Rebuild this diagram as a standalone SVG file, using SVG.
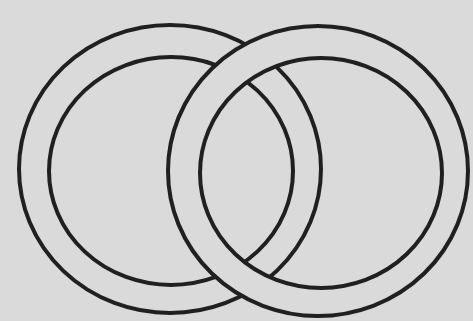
<svg xmlns="http://www.w3.org/2000/svg" width="473" height="321" viewBox="0 0 473 321">
<style>
.ln{fill:none;stroke:#202020;stroke-width:4}
.band{fill:#dadada;fill-rule:evenodd}
</style>
<rect width="473" height="321" fill="#dadada"/>
<g id="ring-left">
<ellipse class="ln" cx="170" cy="169" rx="151" ry="144"/>
<ellipse class="ln" cx="171" cy="171" rx="122" ry="114"/>
</g>
<g id="ring-right">
<path class="band" d="M168,171 a150,145 0 1,0 300,0 a150,145 0 1,0 -300,0 Z M200,173 a121,115 0 1,0 242,0 a121,115 0 1,0 -242,0 Z"/>
<ellipse class="ln" cx="318" cy="171" rx="150" ry="145"/>
<ellipse class="ln" cx="321" cy="173" rx="121" ry="115"/>
</g>
<g id="connectors"/>
</svg>
